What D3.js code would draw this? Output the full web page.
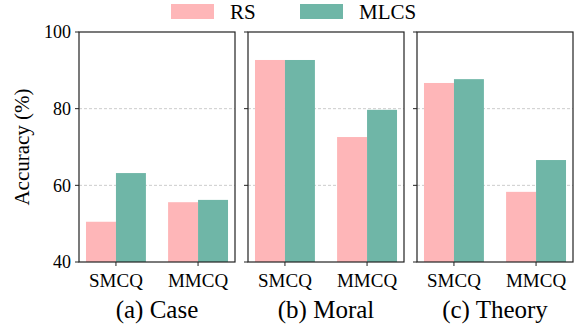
<!DOCTYPE html>
<html>
<head>
<meta charset="utf-8">
<script src="https://cdn.jsdelivr.net/npm/d3@7"></script>
<style>
  body { margin: 0; background: #fff; }
  svg text { font-family: "Liberation Serif", "Times New Roman", Times, serif; fill: #000; }
</style>
</head>
<body>
<div id="chart"></div>
<script>
const panels = ["(a) Case", "(b) Moral", "(c) Theory"];
const categories = ["SMCQ", "MMCQ"];
const seriesNames = ["RS", "MLCS"];
const colors = ["#feb6b8", "#6fb6a7"];
const yTicks = [40, 60, 80, 100];

// values per panel, [SMCQ, MMCQ]
const rsValues = [[50.5, 55.6], [92.7, 72.6], [86.7, 58.3]];
const mlcsValues = [[63.2, 56.2], [92.7, 79.7], [87.7, 66.6]];

const width = 577, height = 327;
const panelLeft = [79, 248, 417];
const panelWidth = 156;
const plotTop = 32, plotBottom = 262;
const serif = "'Liberation Serif', 'Times New Roman', serif";

const svg = d3.select("#chart").append("svg")
  .attr("width", width)
  .attr("height", height)
  .attr("font-family", serif);

const yScale = d3.scaleLinear().domain([40, 100]).range([plotBottom, plotTop]);
const barW = 0.365;

panels.forEach(function(title, p) {
  const x = d3.scaleLinear().domain([-0.45, 1.45]).range([0, panelWidth]);
  const g = svg.append("g").attr("transform", "translate(" + panelLeft[p] + ",0)");

  // grid
  g.selectAll(".grid")
    .data([60, 80])
    .enter().append("line")
    .attr("x1", 0).attr("x2", panelWidth)
    .attr("y1", d => yScale(d)).attr("y2", d => yScale(d))
    .attr("stroke", "#cccccc")
    .attr("stroke-width", 1)
    .attr("stroke-dasharray", "3,2");

  const series = [rsValues[p], mlcsValues[p]];
  series.forEach(function(vals, s) {
    g.selectAll(".bar" + s)
      .data(vals)
      .enter().append("rect")
      .attr("x", (d, i) => x(i - barW + s * barW))
      .attr("width", x(barW) - x(0))
      .attr("y", d => yScale(d))
      .attr("height", d => plotBottom - yScale(d))
      .attr("fill", colors[s]);
  });

  // frame
  g.append("rect")
    .attr("x", 0).attr("y", plotTop)
    .attr("width", panelWidth).attr("height", plotBottom - plotTop)
    .attr("fill", "none")
    .attr("stroke", "#222")
    .attr("stroke-width", 1.2);

  // y ticks
  g.selectAll(".ytick")
    .data(yTicks)
    .enter().append("line")
    .attr("x1", -4).attr("x2", 0)
    .attr("y1", d => yScale(d)).attr("y2", d => yScale(d))
    .attr("stroke", "#222");

  if (p === 0) {
    g.selectAll(".ylab")
      .data(yTicks)
      .enter().append("text")
      .attr("x", -8)
      .attr("y", d => yScale(d))
      .attr("dy", "0.35em")
      .attr("text-anchor", "end")
      .style("font-size", "18px")
      .text(d => d);
  }

  // x ticks
  g.selectAll(".xtick")
    .data(categories)
    .enter().append("line")
    .attr("x1", (d, i) => x(i)).attr("x2", (d, i) => x(i))
    .attr("y1", plotBottom).attr("y2", plotBottom + 4)
    .attr("stroke", "#222");

  g.selectAll(".xlab")
    .data(categories)
    .enter().append("text")
    .attr("x", (d, i) => x(i))
    .attr("y", 287)
    .attr("text-anchor", "middle")
    .style("font-size", "19px")
    .text(d => d);

  g.append("text")
    .attr("x", panelWidth / 2)
    .attr("y", 318)
    .attr("text-anchor", "middle")
    .style("font-size", "25px")
    .text(title);
});

svg.append("text")
  .attr("transform", "translate(29," + ((plotTop + plotBottom) / 2) + ") rotate(-90)")
  .attr("text-anchor", "middle")
  .style("font-size", "21px")
  .text("Accuracy (%)");

// legend
const legendX = [171, 300];
seriesNames.forEach(function(name, i) {
  svg.append("rect")
    .attr("x", legendX[i]).attr("y", 4)
    .attr("width", 43).attr("height", 15)
    .attr("fill", colors[i]);
  svg.append("text")
    .attr("x", legendX[i] + 59).attr("y", 19)
    .style("font-size", "21px")
    .text(name);
});
</script>
</body>
</html>
